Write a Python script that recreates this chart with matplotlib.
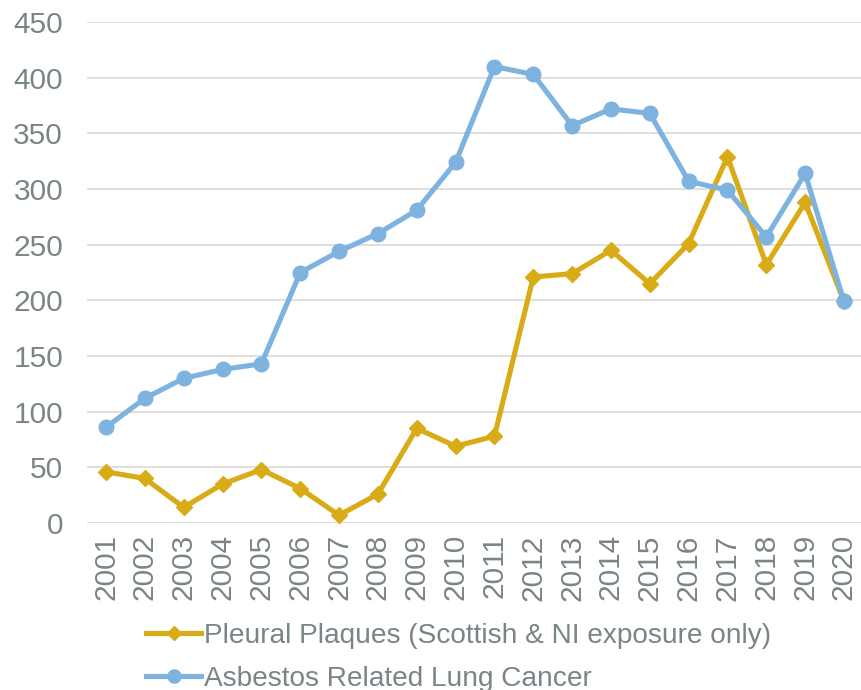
import matplotlib
matplotlib.use("Agg")
import matplotlib.pyplot as plt

years = [str(y) for y in range(2001, 2021)]
pleural_plaques = [46, 40, 14, 35, 48, 31, 7, 26, 85, 69,
                   78, 221, 224, 245, 215, 251, 329, 232, 288, 199]
lung_cancer = [86, 112, 130, 138, 143, 225, 244, 260, 281, 324,
               410, 403, 357, 372, 368, 307, 299, 257, 314, 199]

gold = '#D9AB16'
blue = '#7EB3E0'
text_grey = '#7A8587'

plt.rcParams['font.family'] = ['Liberation Sans', 'DejaVu Sans']

fig = plt.figure(figsize=(8.61, 6.90), dpi=100)
ax = fig.add_axes([0.1006, 0.242, 0.9022, 0.726])

x = range(len(years))
ax.plot(x, pleural_plaques, color=gold, lw=3.7, marker='D', ms=8,
        label='Pleural Plaques (Scottish & NI exposure only)')
ax.plot(x, lung_cancer, color=blue, lw=3.7, marker='o', ms=10.5,
        label='Asbestos Related Lung Cancer')

ax.set_xlim(-0.5, len(years) - 0.5)
ax.set_ylim(0, 450)
ax.set_yticks(range(0, 451, 50))
ax.set_xticks(list(x))
ax.set_xticklabels(years, rotation=90)
ax.tick_params(axis='both', length=0, labelsize=21.5, labelcolor=text_grey)
ax.tick_params(axis='x', pad=8)
ax.tick_params(axis='y', pad=17)
ax.grid(axis='y', color='#D9D9D9', lw=1.2)
ax.set_axisbelow(True)
for s in ax.spines.values():
    s.set_visible(False)

# legend sits under the axes, second row runs off the bottom like the original
leg = fig.legend(loc='upper left', bbox_to_anchor=(0.157, 0.114), frameon=False,
                 fontsize=20.2, handlelength=1.95, handletextpad=0.1,
                 labelspacing=0.62, borderaxespad=0, markerscale=0.9)
for t in leg.get_texts():
    t.set_color(text_grey)

fig.savefig('out.png', dpi=100)
